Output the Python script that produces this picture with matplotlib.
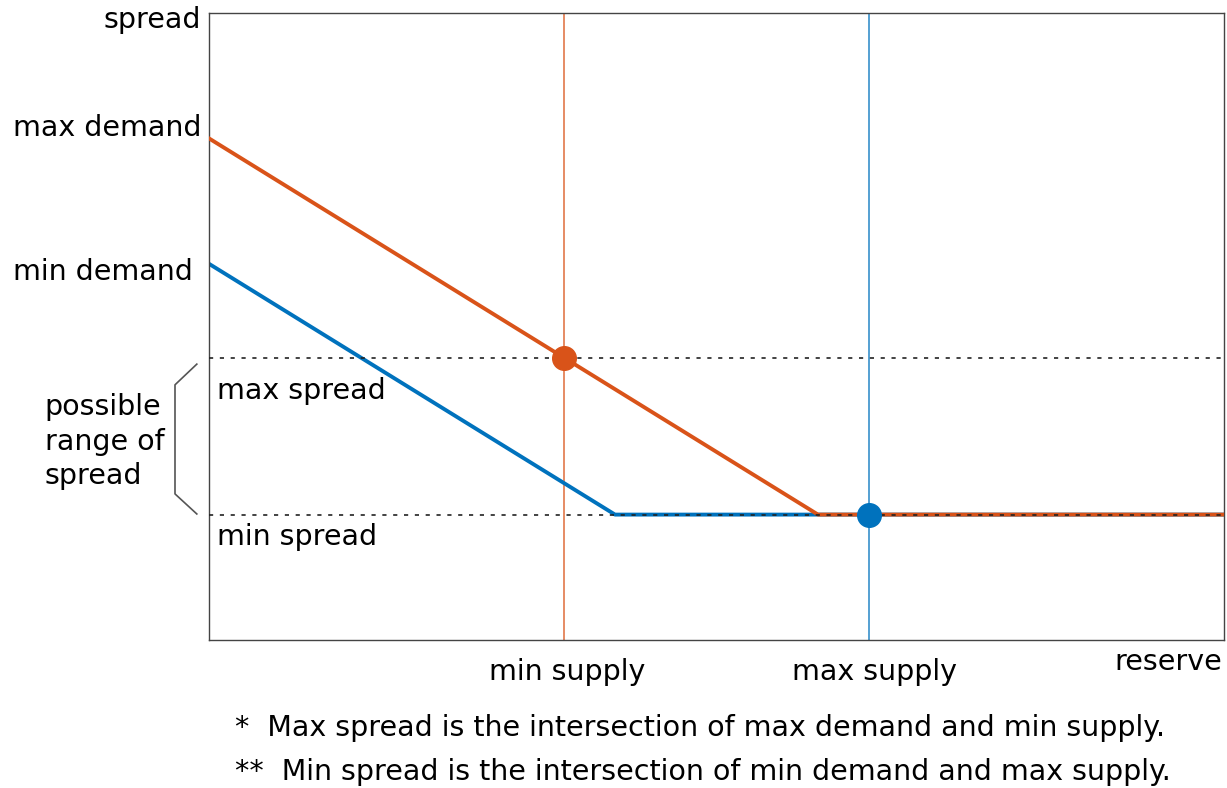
import numpy as np
import matplotlib.pyplot as plt

# curve data (reserve, spread)
max_demand_x = [0, 6, 10]
max_demand_y = [8, 2, 2]
min_demand_x = [0, 4, 10]
min_demand_y = [6, 2, 2]

min_supply = 3.5
max_supply = 6.5
max_spread = 4.5
min_spread = 2.0

orange = "#D95319"
blue = "#0072BD"

plt.rcParams['font.family'] = ['DejaVu Sans']
fs = 20.5

fig = plt.figure(figsize=(12.27, 7.88), dpi=100)
ax = fig.add_axes([209 / 1227, 1 - 640 / 788, 1015 / 1227, 627 / 788])
ax.set_xlim(0, 10)
ax.set_ylim(0, 10)
ax.set_xticks([])
ax.set_yticks([])
for s in ax.spines.values():
    s.set_color("#444444")
    s.set_linewidth(1.0)

# supply lines
ax.axvline(min_supply, color=orange, lw=1.1, alpha=0.85, zorder=1)
ax.axvline(max_supply, color=blue, lw=1.1, alpha=0.85, zorder=1)

# demand curves
ax.plot(min_demand_x, min_demand_y, color=blue, lw=2.8, zorder=2)
ax.plot(max_demand_x, max_demand_y, color=orange, lw=2.8, zorder=3)

# spread levels
ax.axhline(max_spread, color="#222222", lw=1.2, ls=(0, (2.5, 4)), zorder=4)
ax.axhline(min_spread, color="#222222", lw=1.2, ls=(0, (2.5, 4)), zorder=4)

# intersections
ax.plot(min_supply, max_spread, "o", color=orange, ms=17, zorder=5)
ax.plot(max_supply, min_spread, "o", color=blue, ms=17, zorder=5)

# labels
kw = dict(fontsize=fs, clip_on=False, va="center")
ax.text(-0.08, 9.89, "spread", ha="right", **kw)
ax.text(-1.93, 8.17, "max demand", ha="left", **kw)
ax.text(-1.93, 5.87, "min demand", ha="left", **kw)
ax.text(0.08, 3.97, "max spread", ha="left", **kw)
ax.text(0.08, 1.64, "min spread", ha="left", **kw)
ax.text(-1.62, 3.16, "possible\nrange of\nspread", ha="left", linespacing=1.3, **kw)
ax.text(min_supply + 0.03, -0.51, "min supply", ha="center", **kw)
ax.text(max_supply + 0.06, -0.51, "max supply", ha="center", **kw)
ax.text(9.98, -0.35, "reserve", ha="right", **kw)
ax.text(0.256, -1.40, "*  Max spread is the intersection of max demand and min supply.", ha="left", **kw)
ax.text(0.256, -2.11, "**  Min spread is the intersection of min demand and max supply.", ha="left", **kw)

# bracket
ax.plot([-0.12, -0.335, -0.335, -0.12], [4.40, 4.07, 2.33, 2.01],
        color="#555555", lw=1.2, clip_on=False)

fig.savefig("out.png", dpi=100)
